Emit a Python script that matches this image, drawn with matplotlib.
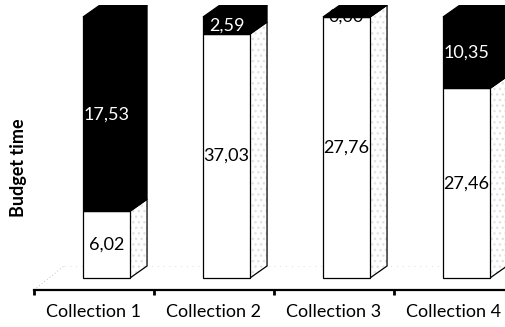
import matplotlib
matplotlib.use("Agg")
import matplotlib.pyplot as plt
from matplotlib.patches import Polygon

plt.rcParams['font.family'] = ['Lato', 'DejaVu Sans']

categories = ['Collection 1', 'Collection 2', 'Collection 3', 'Collection 4']
budget_low = [6.02, 37.03, 27.76, 27.46]    # white (lower) segments
budget_high = [17.53, 2.59, 0.00, 10.35]    # black (upper) segments
axis_label = 'Budget time'

W, H = 506, 327
fig = plt.figure(figsize=(W / 100, H / 100), dpi=100)
ax = fig.add_axes([34 / W, 37 / H, 480 / W, 285 / H])
ax.set_xlim(0, len(categories))
ax.set_ylim(-4.6, 104.6)

bar_left = 0.408
bar_width = 0.392
depth_x = 0.142
depth_y = 4.6


def fmt(v):
    return f"{v:.2f}".replace('.', ',')


def side_face(x1, y0, y1):
    return [(x1, y0), (x1 + depth_x, y0 + depth_y),
            (x1 + depth_x, y1 + depth_y), (x1, y1)]


# faint floor edges
ax.plot([0, 0.25], [-4.6, depth_y], ls=(0, (1, 3)), color='#b0b0b0', lw=0.6)
ax.plot([0.25, 4], [depth_y, depth_y], ls=(0, (1, 6)), color='#d0d0d0', lw=0.6)

for i, (lo, hi) in enumerate(zip(budget_low, budget_high)):
    total = lo + hi
    p_lo = lo / total * 100
    p_hi = hi / total * 100
    x0 = i + bar_left
    x1 = x0 + bar_width
    segs = [(0, p_lo, 'white', lo, 'black'),
            (p_lo, p_lo + p_hi, 'black', hi, 'white')]
    for y0, y1, col, val, tcol in segs:
        # side face
        if col == 'white':
            ax.add_patch(Polygon(side_face(x1, y0, y1), closed=True,
                                 facecolor='white', edgecolor='#e2e2e2',
                                 hatch='...', lw=0, zorder=2))
            ax.add_patch(Polygon(side_face(x1, y0, y1), closed=True,
                                 facecolor='none', edgecolor='black',
                                 lw=0.9, zorder=3))
        else:
            ax.add_patch(Polygon(side_face(x1, y0, y1), closed=True,
                                 facecolor='black', edgecolor='black',
                                 lw=0.9, zorder=3))
        # front face
        ax.add_patch(Polygon([(x0, y0), (x1, y0), (x1, y1), (x0, y1)],
                             closed=True, facecolor=col, edgecolor='black',
                             lw=0.9, zorder=4))
    # top face (colour of the upper segment)
    top = [(x0, 100), (x0 + depth_x, 100 + depth_y),
           (x1 + depth_x, 100 + depth_y), (x1, 100)]
    ax.add_patch(Polygon(top, closed=True, facecolor='black',
                         edgecolor='black', lw=0.9, zorder=6))
    # value labels
    xc = (x0 + x1) / 2
    ax.text(xc, p_lo / 2, fmt(lo), ha='center', va='center',
            fontsize=13, color='black', zorder=5)
    ax.text(xc, p_lo + p_hi / 2, fmt(hi), ha='center', va='center',
            fontsize=13, color='white' if hi > 0 else 'black', zorder=5)

for s in ['top', 'right', 'left']:
    ax.spines[s].set_visible(False)
ax.spines['bottom'].set_linewidth(1.6)
ax.set_yticks([])
ax.set_xticks(range(len(categories) + 1))
ax.set_xticklabels([])
ax.tick_params(axis='x', which='major', direction='out', length=3.5, width=2)
ax.set_xticks([i + 0.5 for i in range(len(categories))], minor=True)
ax.set_xticklabels(categories, minor=True, fontsize=13)
ax.tick_params(axis='x', which='minor', length=0, pad=10)

fig.text(19 / W, 1 - 168 / H, axis_label, rotation=90, ha='center',
         va='center', fontsize=13, fontweight='bold')

fig.savefig('out.png', dpi=100)
